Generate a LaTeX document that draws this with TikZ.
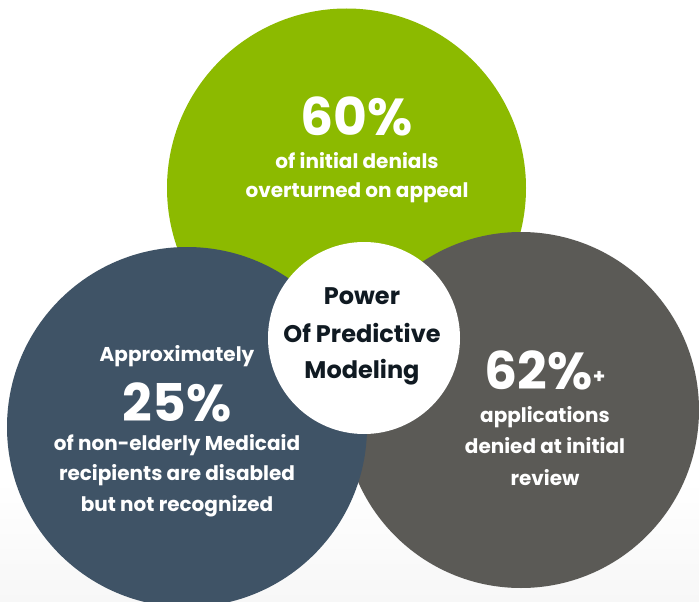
\documentclass[tikz,border=0pt]{standalone}
\usepackage{fontspec}
\setmainfont{Poppins}
\definecolor{cgreen}{HTML}{8CBA00}
\definecolor{cblue}{HTML}{3F5366}
\definecolor{cgray}{HTML}{5B5A56}
\definecolor{cink}{HTML}{101A22}
\definecolor{cbg}{HTML}{F7F7F7}
\tikzset{
  disc/.style={circle, inner sep=0pt, draw=none},
  big/.style={anchor=base, inner sep=0pt, text depth=0pt, text=white, font=\fontsize{52}{52}\selectfont\bfseries},
  small/.style={anchor=base, inner sep=0pt, text=white, font=\fontsize{20}{22}\selectfont\bfseries},
  core/.style={anchor=base, inner sep=0pt, text=cink, font=\fontsize{24}{26}\selectfont\bfseries},
}
\begin{document}
\begin{tikzpicture}[x=1pt, y=-1pt]
\useasboundingbox (0,0) rectangle (699,602);
\fill[white] (0,0) rectangle (699,480);
\shade[top color=white, bottom color=cbg] (0,480) rectangle (699,602);
\node[disc, fill=cgreen, minimum size=359pt] (green) at (346.5,188) {};
\node[disc, fill=cgray, minimum size=356pt] (gray) at (521,410) {};
\node[disc, fill=cblue, minimum size=360pt] (blue) at (187,427) {};
\node[disc, fill=white, minimum size=192pt] (center) at (364,338) {};
% green
\node[big] (g1) at (357,135) {60\%};
\node[small] (g2) at (357,168) {of initial denials};
\node[small] (g3) at (357,197) {overturned on appeal};
% blue
\node[small] (b0) at (177,361) {Approximately};
\node[big] (b1) at (177,421) {25\%};
\node[small] (b2) at (177,450) {of non-elderly Medicaid};
\node[small] (b3) at (177,480) {recipients are disabled};
\node[small] (b4) at (177,511) {but not recognized};
% gray
\node[big] (r1) at (545,389) {62\%\raisebox{6pt}{\fontsize{20}{20}\selectfont+}};
\node[small] (r2) at (545,422) {applications};
\node[small] (r3) at (545,453) {denied at initial};
\node[small] (r4) at (545,485) {review};
% center
\node[core] (c1) at (362,304) {Power};
\node[core] (c2) at (362,342) {Of Predictive};
\node[core] (c3) at (362,378) {Modeling};
\end{tikzpicture}
\end{document}
